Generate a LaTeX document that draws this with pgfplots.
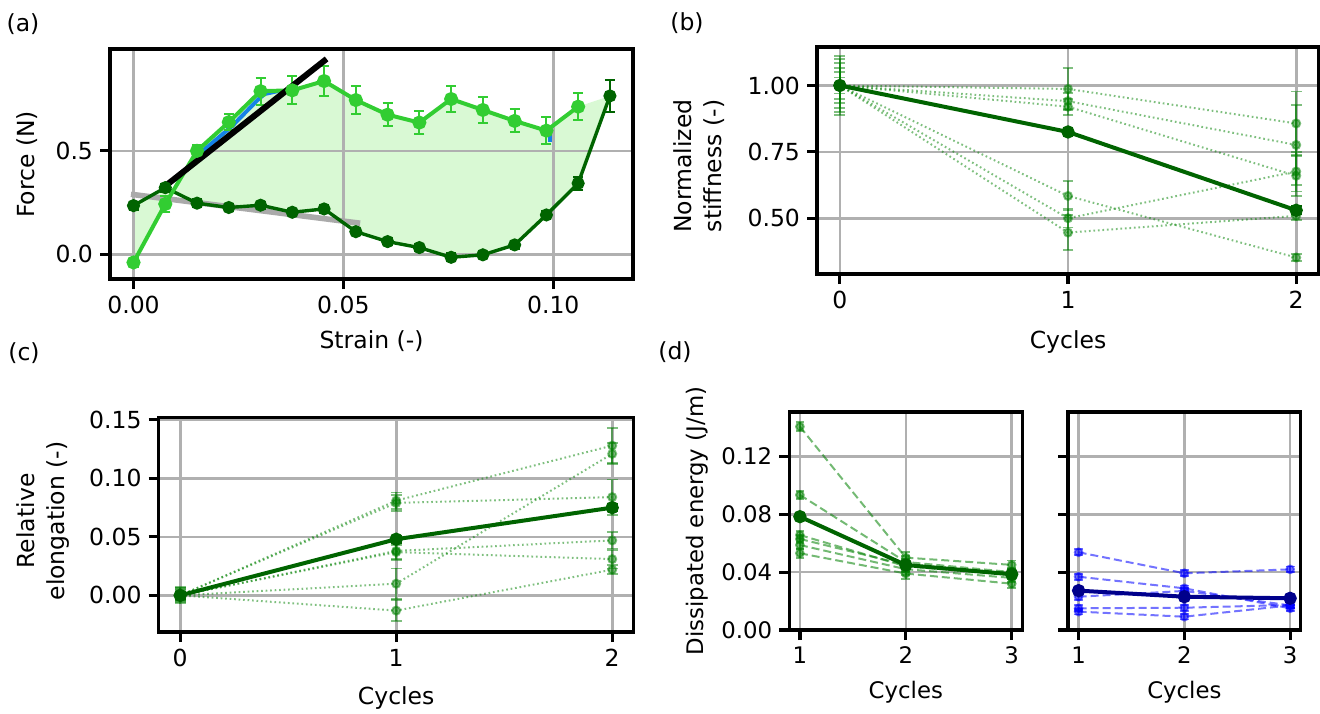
\documentclass[border=0pt]{standalone}
\usepackage{fontspec}
\setmainfont{DejaVu Sans}
\usepackage{pgfplots}
\pgfplotsset{compat=1.18}

\definecolor{lgreen}{RGB}{50,205,50}
\definecolor{dgreen}{RGB}{0,100,0}
\definecolor{fillg}{RGB}{217,249,212}
\definecolor{gridc}{RGB}{176,176,176}
\definecolor{mgreen}{RGB}{0,128,0}
\definecolor{fitblue}{RGB}{20,130,230}
\definecolor{fitgray}{RGB}{170,170,170}
\definecolor{dblue}{RGB}{0,0,139}

\newcommand\fs{\fontsize{11.75}{14.8}\selectfont}
\newcommand\fsd{\fontsize{11.4}{14}\selectfont}

\pgfplotsset{
  panel/.style={scale only axis, anchor=south west,
    axis line style={line width=1.6pt},
    tick align=outside, major tick length=5pt, tick pos=left,
    every tick/.style={line width=1.6pt, black},
    grid=major, grid style={line width=1.3pt, gridc},
    major grid style={line width=1.3pt, gridc},
    tick label style={font=\fs}, label style={font=\fs},
    /pgf/number format/assume math mode=true},
  ebars/.style n args={2}{
    /pgfplots/error bars/y dir=both, /pgfplots/error bars/y explicit,
    /pgfplots/error bars/error bar style={solid, line width=#1},
    /pgfplots/error bars/error mark options={rotate=90, mark size=#2, line width=#1, solid}},
  sample/.style={mgreen, opacity=0.5, line width=1pt,
    dash pattern=on 0.85pt off 1.4pt,
    mark=*, mark size=2pt, mark options={solid}, ebars={0.9pt}{2.7pt}},
  dsample/.style={opacity=0.55, line width=1pt,
    dash pattern=on 4pt off 2pt,
    mark=*, mark size=1.9pt, mark options={solid}, ebars={0.9pt}{2.2pt}},
  mean/.style={line width=2pt, solid, mark=*, mark size=2.3pt, ebars={1.2pt}{2.7pt}},
}

\begin{document}
\begin{tikzpicture}

% (a) force - strain
\begin{axis}[panel, set layers, at={(55pt,217pt)}, width=261.5pt, height=115pt,
  xmin=-0.0056, xmax=0.119, ymin=-0.12, ymax=0.993,
  xtick={0,0.05,0.1}, xticklabels={0.00,0.05,0.10},
  ytick={0,0.5}, yticklabels={0.0,0.5},
  xlabel={Strain (-)}, ylabel={Force (N)},
  xlabel style={at={(axis description cs:0.5,-0.27)}, anchor=center},
  ylabel style={at={(axis description cs:-0.158,0.498)}, anchor=center}]
% area between loading and unloading curves
\addplot[fill=fillg, draw=none, on layer=axis background] coordinates {
  (0,-0.04) (0.00757,0.243) (0.01513,0.50) (0.0227,0.639) (0.03027,0.789)
  (0.03783,0.793) (0.0454,0.838) (0.05297,0.746) (0.06053,0.675) (0.0681,0.637)
  (0.07567,0.751) (0.08323,0.698) (0.0908,0.645) (0.09837,0.598) (0.10593,0.714)
  (0.1135,0.766) (0.10593,0.343) (0.09837,0.19) (0.0908,0.045) (0.08323,-0.003)
  (0.07567,-0.015) (0.0681,0.032) (0.06053,0.061) (0.05297,0.109) (0.0454,0.219)
  (0.03783,0.203) (0.03027,0.237) (0.0227,0.226) (0.01513,0.247) (0.00757,0.322)
  (0,0.235)} -- cycle;
\addplot[fitblue, line width=2pt] coordinates {
  (0.0165,0.50) (0.0235,0.62) (0.0295,0.745) (0.0312,0.775) (0.0345,0.79)};
\addplot[fitblue, line width=2pt] coordinates {(0.0992,0.545) (0.0992,0.585)};
\addplot[fitgray, line width=2.8pt] coordinates {(-0.0006,0.29) (0.054,0.15)};
\addplot[dgreen, line width=1.7pt, mark=*, mark size=2.4pt, ebars={1pt}{2.5pt}] coordinates {
  (0,0.235) +- (0,0.02) (0.00757,0.322) +- (0,0.02) (0.01513,0.247) +- (0,0.02)
  (0.0227,0.226) +- (0,0.018) (0.03027,0.237) +- (0,0.018) (0.03783,0.203) +- (0,0.015)
  (0.0454,0.219) +- (0,0.018) (0.05297,0.109) +- (0,0.015) (0.06053,0.061) +- (0,0.015)
  (0.0681,0.032) +- (0,0.015) (0.07567,-0.015) +- (0,0.02) (0.08323,-0.003) +- (0,0.015)
  (0.0908,0.045) +- (0,0.018) (0.09837,0.19) +- (0,0.018) (0.10593,0.343) +- (0,0.03)
  (0.1135,0.766) +- (0,0.077)};
\addplot[lgreen, line width=2pt, mark=*, mark size=2.5pt, ebars={1pt}{2.5pt}] coordinates {
  (0,-0.04) +- (0,0.02) (0.00757,0.243) +- (0,0.04) (0.01513,0.50) +- (0,0.03)
  (0.0227,0.639) +- (0,0.04) (0.03027,0.789) +- (0,0.065) (0.03783,0.793) +- (0,0.068)
  (0.0454,0.838) +- (0,0.071) (0.05297,0.746) +- (0,0.066) (0.06053,0.675) +- (0,0.056)
  (0.0681,0.637) +- (0,0.056) (0.07567,0.751) +- (0,0.065) (0.08323,0.698) +- (0,0.065)
  (0.0908,0.645) +- (0,0.056) (0.09837,0.598) +- (0,0.064) (0.10593,0.714) +- (0,0.065)};
\addplot[black, line width=3pt] coordinates {(0.0077,0.332) (0.046,0.945)};
\end{axis}

% (b) normalized stiffness
\begin{axis}[panel, at={(408.5pt,219.5pt)}, width=251pt, height=113.5pt,
  xmin=-0.1, xmax=2.1, ymin=0.29, ymax=1.145,
  xtick={0,1,2}, xticklabels={0,1,2},
  ytick={0.5,0.75,1}, yticklabels={0.50,0.75,1.00},
  xlabel={Cycles}, ylabel={Normalized\\stiffness (-)},
  xlabel style={at={(axis description cs:0.5,-0.30)}, anchor=center},
  ylabel style={at={(axis description cs:-0.235,0.476)}, anchor=center, align=center}]
\addplot[sample] coordinates {(0,1) +- (0,0.10) (1,0.987) +- (0,0.08) (2,0.857) +- (0,0.12)};
\addplot[sample] coordinates {(0,1) +- (0,0.085) (1,0.941) +- (0,0.03) (2,0.776) +- (0,0.15)};
\addplot[sample] coordinates {(0,1) +- (0,0.05) (1,0.92) +- (0,0.03) (2,0.66) +- (0,0.075)};
\addplot[sample] coordinates {(0,1) +- (0,0.11) (1,0.584) +- (0,0.055) (2,0.352) +- (0,0.012)};
\addplot[sample] coordinates {(0,1) +- (0,0.065) (1,0.50) +- (0,0.035) (2,0.676) +- (0,0.075)};
\addplot[sample] coordinates {(0,1) +- (0,0.03) (1,0.446) +- (0,0.065) (2,0.509) +- (0,0.015)};
\addplot[mean, dgreen] coordinates {(0,1) +- (0,0.01) (1,0.825) +- (0,0.015) (2,0.53) +- (0,0.015)};
\end{axis}

% (c) relative elongation
\begin{axis}[panel, at={(79.3pt,40.5pt)}, width=237.6pt, height=107.4pt,
  xmin=-0.1, xmax=2.1, ymin=-0.0313, ymax=0.1523,
  xtick={0,1,2}, xticklabels={0,1,2},
  ytick={0,0.05,0.1,0.15}, yticklabels={0.00,0.05,0.10,0.15},
  xlabel={Cycles}, ylabel={Relative\\elongation (-)},
  xlabel style={at={(axis description cs:0.5,-0.307)}, anchor=center},
  ylabel style={at={(axis description cs:-0.243,0.517)}, anchor=center, align=center}]
\addplot[sample] coordinates {(0,0) +- (0,0.007) (1,0.081) +- (0,0.007) (2,0.128) +- (0,0.015)};
\addplot[sample] coordinates {(0,0) +- (0,0.006) (1,0.079) +- (0,0.007) (2,0.084) +- (0,0.015)};
\addplot[sample] coordinates {(0,0) +- (0,0.005) (1,0.038) +- (0,0.008) (2,0.047) +- (0,0.007)};
\addplot[sample] coordinates {(0,0) +- (0,0.004) (1,0.037) +- (0,0.006) (2,0.031) +- (0,0.008)};
\addplot[sample] coordinates {(0,0) +- (0,0.006) (1,0.010) +- (0,0.013) (2,0.121) +- (0,0.009)};
\addplot[sample] coordinates {(0,0) +- (0,0.005) (1,-0.013) +- (0,0.009) (2,0.022) +- (0,0.004)};
\addplot[mean, dgreen] coordinates {(0,0) +- (0,0.003) (1,0.048) +- (0,0.003) (2,0.075) +- (0,0.003)};
\end{axis}

% (d) dissipated energy, green samples
\begin{axis}[panel, at={(394.65pt,41.5pt)}, width=116.5pt, height=109pt,
  tick label style={font=\fsd}, label style={font=\fsd},
  xmin=0.9, xmax=3.1, ymin=0, ymax=0.1506,
  xtick={1,2,3}, xticklabels={1,2,3},
  ytick={0,0.04,0.08,0.12}, yticklabels={0.00,0.04,0.08,0.12},
  xlabel={Cycles}, ylabel={Dissipated energy (J/m)},
  xlabel style={at={(axis description cs:0.5,-0.284)}, anchor=center},
  ylabel style={at={(axis description cs:-0.396,0.5)}, anchor=center}]
\addplot[dsample, mgreen] coordinates {(1,0.1405) +- (0,0.003) (2,0.050) +- (0,0.004) (3,0.045) +- (0,0.003)};
\addplot[dsample, mgreen] coordinates {(1,0.0933) +- (0,0.003) (2,0.047) +- (0,0.004) (3,0.040) +- (0,0.003)};
\addplot[dsample, mgreen] coordinates {(1,0.0656) +- (0,0.003) (2,0.044) +- (0,0.004) (3,0.038) +- (0,0.003)};
\addplot[dsample, mgreen] coordinates {(1,0.0629) +- (0,0.003) (2,0.045) +- (0,0.004) (3,0.039) +- (0,0.003)};
\addplot[dsample, mgreen] coordinates {(1,0.0587) +- (0,0.003) (2,0.042) +- (0,0.004) (3,0.036) +- (0,0.003)};
\addplot[dsample, mgreen] coordinates {(1,0.053) +- (0,0.003) (2,0.039) +- (0,0.004) (3,0.032) +- (0,0.003)};
\addplot[mean, dgreen] coordinates {(1,0.0783) +- (0,0.001) (2,0.0449) +- (0,0.001) (3,0.0385) +- (0,0.001)};
\end{axis}

% (d) dissipated energy, blue samples
\begin{axis}[panel, at={(534pt,41.5pt)}, width=116.35pt, height=109pt,
  tick label style={font=\fsd}, label style={font=\fsd},
  xmin=0.9, xmax=3.1, ymin=0, ymax=0.1506,
  xtick={1,2,3}, xticklabels={1,2,3},
  ytick={0,0.04,0.08,0.12}, yticklabels={},
  xlabel={Cycles},
  xlabel style={at={(axis description cs:0.5,-0.284)}, anchor=center}]
\addplot[dsample, blue] coordinates {(1,0.0537) +- (0,0.002) (2,0.0392) +- (0,0.002) (3,0.0419) +- (0,0.002)};
\addplot[dsample, blue] coordinates {(1,0.0368) +- (0,0.002) (2,0.0288) +- (0,0.002) (3,0.015) +- (0,0.002)};
\addplot[dsample, blue] coordinates {(1,0.023) +- (0,0.002) (2,0.027) +- (0,0.002) (3,0.017) +- (0,0.002)};
\addplot[dsample, blue] coordinates {(1,0.015) +- (0,0.002) (2,0.0154) +- (0,0.002) (3,0.0173) +- (0,0.002)};
\addplot[dsample, blue] coordinates {(1,0.0127) +- (0,0.002) (2,0.0092) +- (0,0.002) (3,0.017) +- (0,0.002)};
\addplot[mean, dblue] coordinates {(1,0.0272) +- (0,0.001) (2,0.023) +- (0,0.001) (3,0.0219) +- (0,0.001)};
\end{axis}

\node[font=\fs] at (11.5pt,344.5pt) {(a)};
\node[font=\fs] at (343.5pt,345pt) {(b)};
\node[font=\fs] at (12pt,180pt) {(c)};
\node[font=\fs] at (337.5pt,180.5pt) {(d)};
\pgfresetboundingbox
\useasboundingbox (0,0) rectangle (660pt,356.5pt);
\end{tikzpicture}
\end{document}
